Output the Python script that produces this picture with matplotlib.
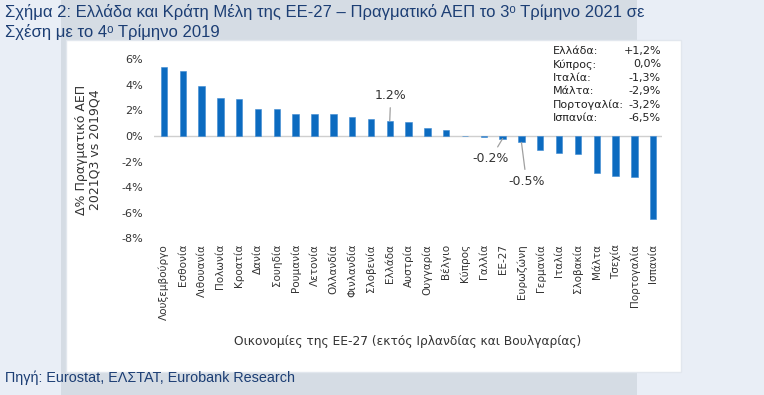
import matplotlib
matplotlib.use('Agg')
from matplotlib import pyplot as plt
from matplotlib.patches import Rectangle

# Δεδομένα
xoras = ['Λουξεμβούργο', 'Εσθονία', 'Λιθουανία', 'Πολωνία', 'Κροατία', 'Δανία',
         'Σουηδία', 'Ρουμανία', 'Λετονία', 'Ολλανδία', 'Φινλανδία', 'Σλοβενία',
         'Ελλάδα', 'Αυστρία', 'Ουγγαρία', 'Βέλγιο', 'Κύπρος', 'Γαλλία', 'ΕΕ-27',
         'Ευρωζώνη', 'Γερμανία', 'Ιταλία', 'Σλοβακία', 'Μάλτα', 'Τσεχία',
         'Πορτογαλία', 'Ισπανία']
metavoli = [5.4, 5.1, 3.9, 3.0, 2.9, 2.1, 2.1, 1.7, 1.7, 1.7, 1.5, 1.3,
            1.2, 1.1, 0.6, 0.5, 0.0, -0.1, -0.2, -0.5, -1.1, -1.3, -1.4, -2.9,
            -3.1, -3.2, -6.5]
y_ticks = [-8, -6, -4, -2, 0, 2, 4, 6]
pinakas_onomata = ['Ελλάδα:', 'Κύπρος:', 'Ιταλία:', 'Μάλτα:', 'Πορτογαλία:', 'Ισπανία:']
pinakas_times = ['+1,2%', '0,0%', '-1,3%', '-2,9%', '-3,2%', '-6,5%']

W, H = 764, 395
fig = plt.figure(figsize=(W / 100, H / 100), dpi=100)
fig.patch.set_facecolor('#e9eef6')

# Φόντα
fig.patches.append(Rectangle((61 / W, 0), (637 - 61) / W, 1, transform=fig.transFigure,
                             facecolor='#d5dce4', edgecolor='none', zorder=0))
fig.patches.append(Rectangle((66 / W, (H - 372) / H), (681 - 66) / W, (372 - 40) / H,
                             transform=fig.transFigure, facecolor='white',
                             edgecolor='#e2e7ee', linewidth=1, zorder=1))

navy = '#1c3e74'
titlos_font = ['Liberation Sans', 'DejaVu Sans']
fig.text(5 / W, (H - 12.5) / H, 'Σχήμα 2: Ελλάδα και Κράτη Μέλη της ΕΕ-27 – Πραγματικό ΑΕΠ το 3ᵒ Τρίμηνο 2021 σε',
         fontsize=12, color=navy, va='center', ha='left', family=titlos_font)
fig.text(5 / W, (H - 32.5) / H, 'Σχέση με το 4ᵒ Τρίμηνο 2019',
         fontsize=12, color=navy, va='center', ha='left', family=titlos_font)
fig.text(5 / W, (H - 378) / H, 'Πηγή: Eurostat, ΕΛΣΤΑΤ, Eurobank Research',
         fontsize=10.4, color=navy, va='center', ha='left', family=titlos_font)

# Άξονες
ax = fig.add_axes([154 / W, (H - 238.4) / H, (662 - 154) / W, (238.4 - 55.4) / H])
ax.set_facecolor('none')
ax.set_zorder(2)
x = list(range(len(xoras)))
ax.bar(x, metavoli, width=0.34, color='#0c6bc0', edgecolor='#3d8ad2', linewidth=0.4, zorder=3)
ax.axhline(0, color='#cfcfcf', linewidth=1, zorder=2)
ax.set_xlim(-0.53, len(xoras) - 0.53)
ax.set_ylim(-8, 6.3)
ax.set_yticks(y_ticks)
ax.set_yticklabels([f'{v}%' for v in y_ticks])
ax.set_xticks(x)
ax.set_xticklabels(xoras, rotation=90)
for s in ax.spines.values():
    s.set_visible(False)
ax.tick_params(axis='y', length=0, pad=8, labelsize=8, labelcolor='#333333')
ax.tick_params(axis='x', length=0, pad=4, labelsize=7.5, labelcolor='#333333')

fig.text(88 / W, (H - 150) / H, 'Δ% Πραγματικό ΑΕΠ\n2021Q3 vs 2019Q4', rotation=90,
         ha='center', va='center', fontsize=9, color='#333333', linespacing=1.0)
fig.text(408 / W, (H - 341) / H, 'Οικονομίες της ΕΕ-27 (εκτός Ιρλανδίας και Βουλγαρίας)',
         ha='center', va='center', fontsize=8.8, color='#333333')

# Ετικέτες
arrow = dict(arrowstyle='-', color='#a0a0a0', linewidth=0.9, shrinkA=2, shrinkB=0)
i = xoras.index('Ελλάδα')
ax.annotate('1.2%', xy=(i, metavoli[i]), xytext=(1, 25), textcoords='offset pixels',
            ha='center', va='center', fontsize=9, color='#333333', arrowprops=arrow)
i = xoras.index('ΕΕ-27')
ax.annotate('-0.2%', xy=(i, metavoli[i]), xytext=(-12, -20), textcoords='offset pixels',
            ha='center', va='center', fontsize=9, color='#333333', arrowprops=arrow)
i = xoras.index('Ευρωζώνη')
ax.annotate('-0.5%', xy=(i, metavoli[i]), xytext=(5, -39), textcoords='offset pixels',
            ha='center', va='center', fontsize=9, color='#333333', arrowprops=arrow)

# Πίνακας τιμών
for k, (n, v) in enumerate(zip(pinakas_onomata, pinakas_times)):
    yy = (H - (51 + k * 13.4)) / H
    fig.text(553 / W, yy, n, ha='left', va='center', fontsize=8, color='#222222', zorder=5)
    fig.text(661 / W, yy, v, ha='right', va='center', fontsize=8, color='#222222', zorder=5)

fig.savefig('out.png', dpi=100, facecolor=fig.get_facecolor())
